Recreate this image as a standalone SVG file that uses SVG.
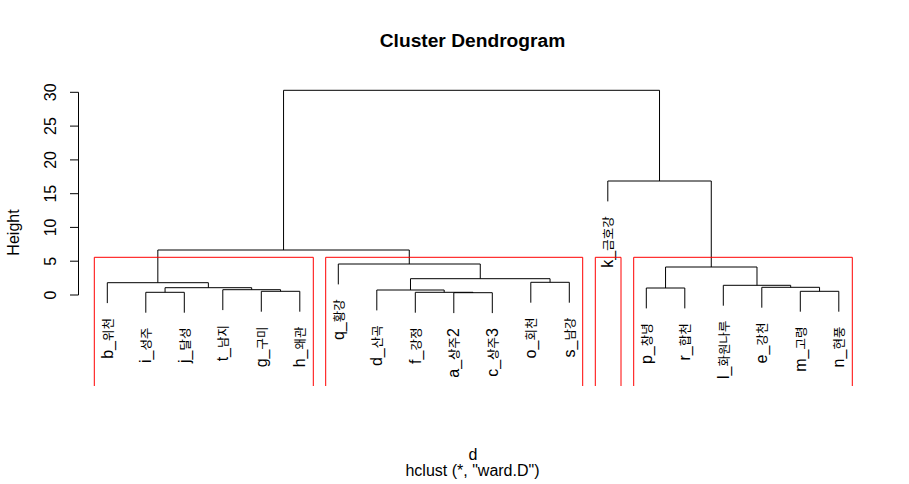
<svg xmlns="http://www.w3.org/2000/svg" width="909" height="484" viewBox="0 0 909 484">
<style>
text{font-family:"Liberation Sans","Noto Sans CJK KR",Arial,sans-serif;fill:#000}
.lbl{font-size:16px;text-anchor:end}
.k{font-family:"Noto Sans CJK KR",sans-serif;font-size:12.5px}
.ax{font-size:16px;text-anchor:middle}
.title{font-size:19.2px;font-weight:bold;text-anchor:middle}
.link{fill:none;stroke:#000;stroke-width:1}
.box{fill:none;stroke:#FF0000;stroke-width:1}
</style>
<rect width="909" height="484" fill="#fff"/>
<text class="title" x="472.5" y="47">Cluster Dendrogram</text>
<g id="axis">
<path class="link" d="M78.5,92.3 V295 M70,295 H78.5 M70,261.2 H78.5 M70,227.4 H78.5 M70,193.7 H78.5 M70,159.9 H78.5 M70,126.1 H78.5 M70,92.3 H78.5"/>
<text class="ax" transform="translate(55.5,295) rotate(-90)">0</text>
<text class="ax" transform="translate(55.5,261.2) rotate(-90)">5</text>
<text class="ax" transform="translate(55.5,227.4) rotate(-90)">10</text>
<text class="ax" transform="translate(55.5,193.7) rotate(-90)">15</text>
<text class="ax" transform="translate(55.5,159.9) rotate(-90)">20</text>
<text class="ax" transform="translate(55.5,126.1) rotate(-90)">25</text>
<text class="ax" transform="translate(55.5,92.3) rotate(-90)">30</text>
<text class="ax" transform="translate(18.5,232.5) rotate(-90)">Height</text>
</g>
<g id="connectors">
<path class="link" d="M145.8,312.7 V292.3 H184.3 V312.7"/>
<path class="link" d="M261.3,311.7 V291.3 H299.8 V311.7"/>
<path class="link" d="M222.8,310.1 V289.7 H280.55 V291.3"/>
<path class="link" d="M165.05,292.3 V287.7 H251.68 V289.7"/>
<path class="link" d="M107.3,303.1 V282.7 H208.36 V287.7"/>
<path class="link" d="M453.8,313.1 V292.7 H492.3 V313.1"/>
<path class="link" d="M415.3,312.7 V292.3 H473.05 V292.7"/>
<path class="link" d="M376.8,310.4 V290 H444.18 V292.3"/>
<path class="link" d="M530.8,302.7 V282.3 H569.3 V302.7"/>
<path class="link" d="M410.49,290 V278.7 H550.05 V282.3"/>
<path class="link" d="M338.3,284.4 V264 H480.27 V278.7"/>
<path class="link" d="M157.83,282.7 V250 H409.28 V264"/>
<path class="link" d="M646.3,308.4 V288 H684.8 V308.4"/>
<path class="link" d="M800.3,311.7 V291.3 H838.8 V311.7"/>
<path class="link" d="M761.8,307.7 V287.3 H819.55 V291.3"/>
<path class="link" d="M723.3,305.7 V285.3 H790.68 V287.3"/>
<path class="link" d="M665.55,288 V267 H756.99 V285.3"/>
<path class="link" d="M607.8,201.4 V181 H711.27 V267"/>
<path class="link" d="M283.56,250 V90.3 H659.53 V181"/>
</g>
<g id="leaf-b"><text class="lbl" transform="translate(112.8,318) rotate(-90)">b_<tspan class="k">위천</tspan></text></g>
<g id="leaf-i"><text class="lbl" transform="translate(151.3,327.5) rotate(-90)">i_<tspan class="k">성주</tspan></text></g>
<g id="leaf-j"><text class="lbl" transform="translate(189.8,327.5) rotate(-90)">j_<tspan class="k">달성</tspan></text></g>
<g id="leaf-t"><text class="lbl" transform="translate(228.3,325) rotate(-90)">t_<tspan class="k">남지</tspan></text></g>
<g id="leaf-g"><text class="lbl" transform="translate(266.8,326.5) rotate(-90)">g_<tspan class="k">구미</tspan></text></g>
<g id="leaf-h"><text class="lbl" transform="translate(305.3,326.5) rotate(-90)">h_<tspan class="k">왜관</tspan></text></g>
<g id="leaf-q"><text class="lbl" transform="translate(343.8,299.3) rotate(-90)">q_<tspan class="k">황강</tspan></text></g>
<g id="leaf-d"><text class="lbl" transform="translate(382.3,325.3) rotate(-90)">d_<tspan class="k">산곡</tspan></text></g>
<g id="leaf-f"><text class="lbl" transform="translate(420.8,327.6) rotate(-90)">f_<tspan class="k">강정</tspan></text></g>
<g id="leaf-a"><text class="lbl" transform="translate(459.3,328) rotate(-90)">a_<tspan class="k">상주</tspan>2</text></g>
<g id="leaf-c"><text class="lbl" transform="translate(497.8,328) rotate(-90)">c_<tspan class="k">상주</tspan>3</text></g>
<g id="leaf-o"><text class="lbl" transform="translate(536.3,317.6) rotate(-90)">o_<tspan class="k">회천</tspan></text></g>
<g id="leaf-s"><text class="lbl" transform="translate(574.8,317.6) rotate(-90)">s_<tspan class="k">남강</tspan></text></g>
<g id="leaf-k"><text class="lbl" transform="translate(613.3,216.3) rotate(-90)">k_<tspan class="k">금호강</tspan></text></g>
<g id="leaf-p"><text class="lbl" transform="translate(651.8,323.3) rotate(-90)">p_<tspan class="k">창녕</tspan></text></g>
<g id="leaf-r"><text class="lbl" transform="translate(690.3,323.3) rotate(-90)">r_<tspan class="k">합천</tspan></text></g>
<g id="leaf-l"><text class="lbl" transform="translate(728.8,320.6) rotate(-90)">l_<tspan class="k">화원나루</tspan></text></g>
<g id="leaf-e"><text class="lbl" transform="translate(767.3,322.6) rotate(-90)">e_<tspan class="k">강천</tspan></text></g>
<g id="leaf-m"><text class="lbl" transform="translate(805.8,326.6) rotate(-90)">m_<tspan class="k">고령</tspan></text></g>
<g id="leaf-n"><text class="lbl" transform="translate(844.3,326.6) rotate(-90)">n_<tspan class="k">현풍</tspan></text></g>
<g id="clusters">
<path class="box" d="M94.3,386 V257.3 H313.3 V386"/>
<path class="box" d="M325.7,386 V257.3 H582.7 V386"/>
<path class="box" d="M595.3,386 V257.3 H621 V386"/>
<path class="box" d="M633.7,386 V257.3 H852.3 V386"/>
</g>
<text class="ax" x="473" y="459.5">d</text>
<text class="ax" x="472.5" y="476">hclust (*, "ward.D")</text>
</svg>
